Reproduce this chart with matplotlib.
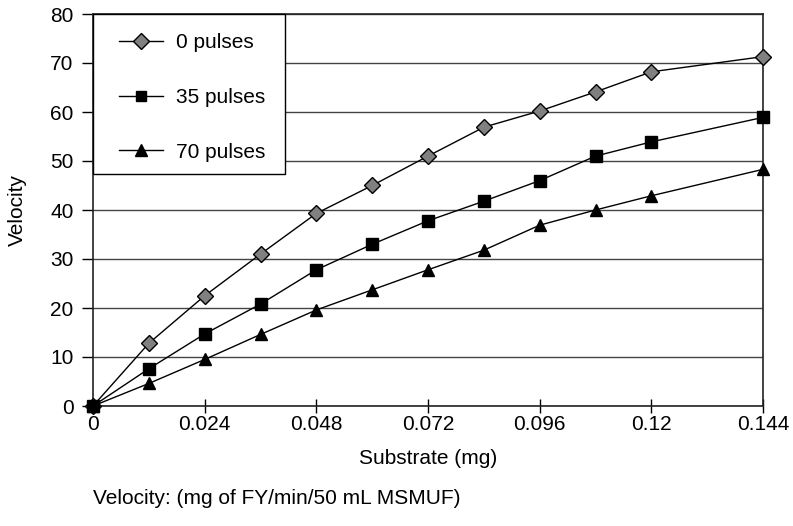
import matplotlib.pyplot as plt
from matplotlib.patches import Rectangle

plt.rcParams["font.family"] = ["Liberation Sans", "DejaVu Sans"]

# Substrate (mg) and velocity readings
substrate = [0, 0.012, 0.024, 0.036, 0.048, 0.060, 0.072, 0.084, 0.096, 0.108, 0.120, 0.144]
pulses_0 = [0, 12.8, 22.5, 31.0, 39.3, 45.0, 51.0, 56.9, 60.2, 64.1, 68.2, 71.3]
pulses_35 = [0, 7.6, 14.7, 20.8, 27.8, 33.0, 37.8, 41.8, 46.0, 51.0, 53.9, 58.9]
pulses_70 = [0, 4.6, 9.5, 14.6, 19.6, 23.7, 27.8, 31.8, 36.9, 40.0, 42.9, 48.3]

x_ticks = [0, 0.024, 0.048, 0.072, 0.096, 0.12, 0.144]
x_tick_labels = ["0", "0.024", "0.048", "0.072", "0.096", "0.12", "0.144"]

fig = plt.figure(figsize=(7.93, 5.26), dpi=100)
ax = fig.add_axes([93 / 793, 1 - 406 / 526, 670 / 793, 392 / 526])

ax.plot(substrate, pulses_0, color="black", lw=1, marker="D", ms=8.5,
        mfc="#808080", mec="black", mew=1, label="0 pulses", clip_on=False, zorder=3)
ax.plot(substrate, pulses_35, color="black", lw=1, marker="s", ms=8,
        mfc="black", mec="black", label="35 pulses", clip_on=False, zorder=3)
ax.plot(substrate, pulses_70, color="black", lw=1, marker="^", ms=8.5,
        mfc="black", mec="black", label="70 pulses", clip_on=False, zorder=3)

ax.set_xlim(0, 0.144)
ax.set_ylim(0, 80)
ax.set_xticks(x_ticks)
ax.set_xticklabels(x_tick_labels)
ax.set_yticks(range(0, 81, 10))
ax.yaxis.grid(True, color="#444444", lw=1)
ax.set_axisbelow(True)

ax.tick_params(axis="x", direction="inout", length=9.5, width=1, labelsize=15, pad=2)
ax.tick_params(axis="y", direction="out", length=8, width=1, labelsize=15, pad=6)
for sp in ax.spines.values():
    sp.set_linewidth(1.2)
    sp.set_color("#222222")

ax.set_xlabel("Substrate (mg)", fontsize=15)
ax.xaxis.set_label_coords((428 - 93) / 670, (406 - 458) / 392)
ax.xaxis.label.set_va("center")
ax.set_ylabel("Velocity", fontsize=15)
ax.yaxis.set_label_coords((17 - 93) / 670, (406 - 210) / 392)
ax.yaxis.label.set_va("center")

# legend box
ax.add_patch(Rectangle((0, (406 - 174) / 392), (285 - 93) / 670, 160 / 392,
                       transform=ax.transAxes, facecolor="white", edgecolor="black",
                       lw=1, zorder=4, clip_on=False))
leg = ax.legend(loc="upper left", bbox_to_anchor=((119 - 93) / 670, (406 - 33) / 392),
                fontsize=15, frameon=False, borderaxespad=0, borderpad=0,
                labelspacing=1.72, handlelength=2.1, handletextpad=0.65,
                markerscale=0.95)
leg.set_zorder(5)

fig.text(93 / 793, 1 - 499 / 526, "Velocity: (mg of FY/min/50 mL MSMUF)",
         fontsize=15, va="center", ha="left")

fig.savefig("out.png", dpi=100)
